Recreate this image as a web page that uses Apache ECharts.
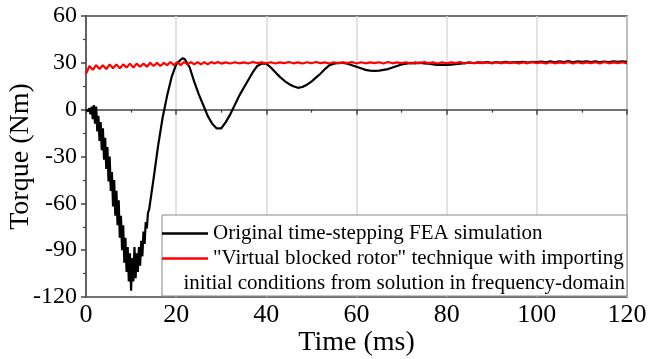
<!DOCTYPE html>
<html>
<head>
<meta charset="utf-8">
<script src="https://cdn.jsdelivr.net/npm/echarts@6/dist/echarts.min.js"></script>
<style>html,body{margin:0;padding:0;background:#fff;}#c{width:649px;height:359px;}</style>
</head>
<body>
<div id="c"></div>
<script>
// ---- data ----
var xTicks = [0, 20, 40, 60, 80, 100, 120];
var yTicks = [-120, -90, -60, -30, 0, 30, 60];
var seriesNames = ['Original time-stepping FEA simulation',
  '"Virtual blocked rotor" technique with importing initial conditions from solution in frequency-domain'];
var legendLine2 = '"Virtual blocked rotor" technique with importing';
var legendLine3 = 'initial conditions from solution in frequency-domain';

var blackTime = [0,0.25,0.5,0.75,1,1.25,1.5,1.75,2,2.25,2.5,2.75,3,3.25,3.5,3.75,4,4.25,4.5,4.75,5,5.25,5.5,5.75,6,6.25,6.5,6.75,7,7.25,7.5,7.75,8,8.25,8.5,8.75,9,9.25,9.5,9.75,10,10.25,10.5,10.75,11,11.25,11.5,11.75,12,12.25,12.5,12.75,13,13.25,13.5,13.75,14,
  15,16,17,18,19,20,21,21.5,22,23,24,25,26,27,28,29,30,31,32,33,34,35,36,37,38,39,40,41,42,43,44,45,46,47,48,49,50,51,52,53,54,55,56,57,58,59,60,61,62,63,64,65,66,67,68,69,70,71,
  72,73,74,75,76,77,78,79,80,81,82,83,84,85,86,87,88,89,90,91,92,93,94,95,96,97,98,99,100,101,102,103,104,105,106,107,108,109,110,111,112,113,114,115,116,117,118,119,120];
var blackTorque = [0,0,-1,1,-3,2,-6,3,-9,2,-14,-4,-20,-8,-26,-12,-32,-18,-38,-24,-46,-30,-52,-40,-62,-45,-68,-52,-74,-58,-82,-68,-90,-74,-98,-82,-104,-88,-110,-92,-116,-95,-110,-88,-108,-92,-104,-88,-100,-84,-94,-78,-86,-72,-76,-66,-64,
  -44,-23,-5,9,21,29,32,33,32,27,18,10,3,-4,-9,-12,-12,-8,-3,3,9,14,19,24,28,29.5,29.5,27,24,21,18.5,16.5,15,14,14.5,16,18,20.5,23,26,28.5,29.5,30,30,29.5,28.5,27.5,26.5,25.5,25,24.8,25,25.5,26,27,28,29,29.5,
  30,29.6,30.1,29.7,29.4,29,28.7,28.9,28.6,28.8,29.1,29.4,29.8,30.2,29.9,30.3,30.1,30.4,30,30.5,30.2,30.6,30.1,30.5,30.3,30.7,30.2,30.6,30.4,30.8,30.3,31,30.4,30.9,30.5,31.1,30.4,30.9,30.6,31,30.5,30.9,30.4,30.8,30.5,31,30.6,30.9,30.7];

var redTime = [0,0.75,1.5,2.25,3,3.75,4.5,5.25,6,6.75,7.5,8.25,9,9.75,10.5,11.25,12,12.75,13.5,14.25,15,15.75,16.5,17.25,18,18.75,19.5,20.25,21,21.75,22.5,23.25,24,24.75,25.5,26.25,27,27.75,28.5,29.25,30,
  31,32,33,34,35,36,37,38,39,40,41,42,43,44,45,46,47,48,49,50,51,52,53,54,55,56,57,58,59,60,61,62,63,64,65,66,67,68,69,70,71,72,73,74,75,76,77,78,79,80,
  81,82,83,84,85,86,87,88,89,90,91,92,93,94,95,96,97,98,99,100,101,102,103,104,105,106,107,108,109,110,111,112,113,114,115,116,117,118,119,120];
var redTorque = [23,28,25.5,28.5,26,28.5,26,29,26.5,29,26.5,29,27,29.5,27,29.5,27.5,29.5,27.5,30,28,30,28,30,28.5,30.5,28.5,30.5,28.5,30.5,29,30.5,29,30.5,29,30.5,29,30.5,29.5,30.5,29.5,
  30.3,29.6,30.4,29.7,30.3,29.6,30.5,29.8,30.3,29.7,30.4,29.6,30.3,29.8,30.5,29.7,30.3,29.6,30.4,29.7,30.5,29.8,30.3,29.6,30.4,29.7,30.3,29.8,30.5,29.6,30.4,29.7,30.3,29.8,30.4,29.6,30.5,29.7,30.3,29.8,30.4,29.6,30.3,29.7,30.5,29.8,30.3,29.6,30.4,29.7,
  30.3,29.8,30.5,29.6,30.4,29.7,30.3,29.8,30.4,29.6,30.5,29.7,30.3,29.8,30.4,29.6,30.3,29.7,30.5,29.8,30.3,29.6,30.4,29.7,30.3,29.8,30.5,29.6,30.4,29.7,30.3,29.8,30.4,29.6,30.5,29.7,30.3,29.8,30.4,29.6,30.3];

function pairs(t, v) { return t.map(function (x, i) { return [x, v[i]]; }); }

var serif = '"Liberation Serif", "Times New Roman", serif';
var axisColor = '#444';

var chart = echarts.init(document.getElementById('c'), null, {renderer: 'canvas'});
chart.setOption({
  animation: false,
  backgroundColor: '#fff',
  grid: {left: 86, top: 16, right: 22, bottom: 62, containLabel: false, outerBoundsMode: 'none',
         show: true, borderColor: axisColor, borderWidth: 1.5, backgroundColor: 'transparent'},
  xAxis: {
    type: 'value', min: xTicks[0], max: xTicks[xTicks.length - 1], interval: xTicks[1] - xTicks[0],
    name: 'Time (ms)', nameLocation: 'middle', nameGap: 44, nameMoveOverlap: false,
    nameTextStyle: {fontFamily: serif, fontSize: 28, lineHeight: 4, color: '#000'},
    axisLine: {show: true, lineStyle: {color: axisColor, width: 1.5}},
    axisTick: {show: true, inside: false, length: 5, lineStyle: {color: axisColor, width: 1.5}},
    minorTick: {show: true, splitNumber: 2, length: 3, lineStyle: {color: axisColor, width: 1.2}},
    axisLabel: {fontFamily: serif, fontSize: 26, color: '#000', margin: 5, hideOverlap: false},
    splitLine: {show: true, lineStyle: {color: '#d8d8d8', width: 1.5}}
  },
  yAxis: {
    type: 'value', min: yTicks[0], max: yTicks[yTicks.length - 1], interval: yTicks[1] - yTicks[0],
    name: 'Torque (Nm)', nameLocation: 'middle', nameGap: 63, nameMoveOverlap: false,
    nameTextStyle: {fontFamily: serif, fontSize: 28, lineHeight: 4, color: '#000'},
    axisLine: {show: true, lineStyle: {color: axisColor, width: 1.5}},
    axisTick: {show: true, inside: false, length: 5, lineStyle: {color: axisColor, width: 1.5}},
    minorTick: {show: true, splitNumber: 2, length: 3, lineStyle: {color: axisColor, width: 1.2}},
    axisLabel: {fontFamily: serif, fontSize: 24, color: '#000', margin: 9},
    splitLine: {show: false}
  },
  legend: {
    left: 162, top: 215, orient: 'vertical', align: 'left',
    padding: [6, 2, 0, 0], itemGap: -25,
    itemWidth: 46, itemHeight: 2.5, icon: 'rect',
    backgroundColor: '#fff', borderColor: '#888', borderWidth: 1, borderRadius: 0,
    selectedMode: false,
    data: [{name: seriesNames[0]}, {name: seriesNames[1]}],
    formatter: function (name) {
      if (name === seriesNames[0]) return '{a|' + name + '}';
      return '{e| }\n{a|' + legendLine2 + '}\n{b|' + legendLine3 + '}';
    },
    textStyle: {
      fontFamily: serif, fontSize: 21, color: '#000', lineHeight: 25, width: 412, overflow: 'none',
      rich: {
        e: {fontFamily: serif, fontSize: 21, lineHeight: 25},
        a: {fontFamily: serif, fontSize: 21, lineHeight: 25, align: 'left'},
        b: {fontFamily: serif, fontSize: 21, lineHeight: 25, align: 'right'}
      }
    }
  },
  series: [
    {name: seriesNames[0], type: 'line', data: pairs(blackTime, blackTorque), symbol: 'none', showSymbol: false,
     lineStyle: {color: '#000', width: 2.2}, itemStyle: {color: '#000'}, z: 2},
    {name: seriesNames[1], type: 'line', data: pairs(redTime, redTorque), symbol: 'none', showSymbol: false,
     lineStyle: {color: '#ff0000', width: 2.2}, itemStyle: {color: '#ff0000'}, z: 3}
  ]
});
</script>
</body>
</html>
